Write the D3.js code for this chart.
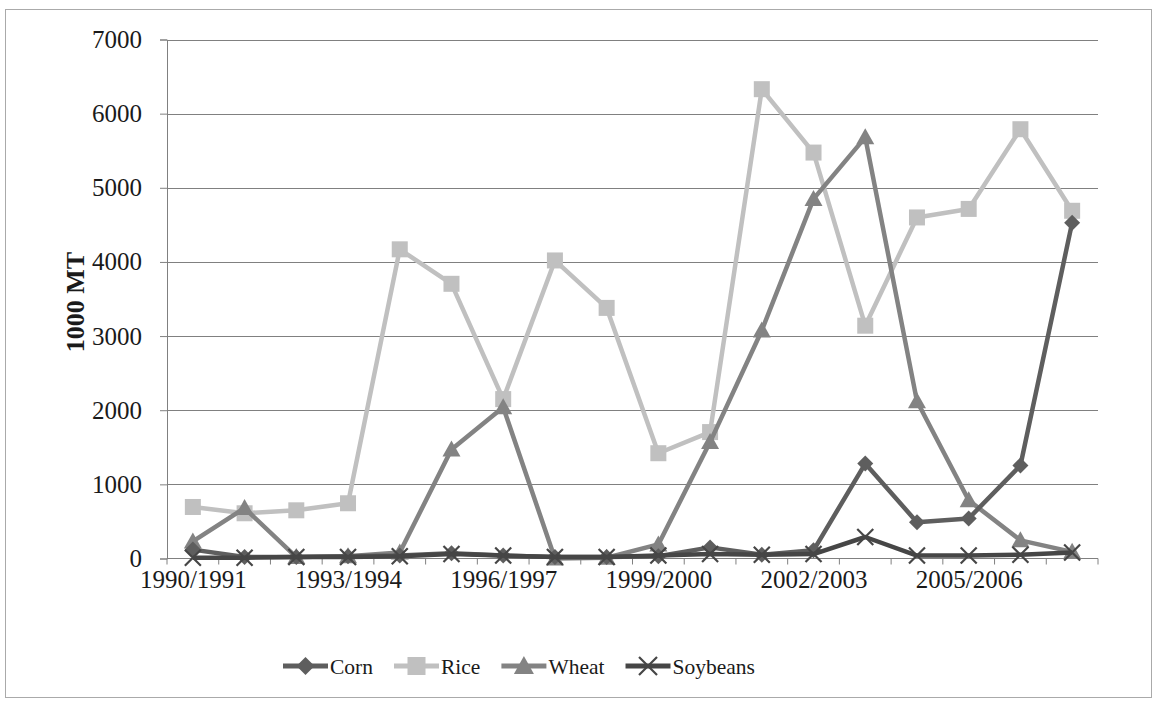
<!DOCTYPE html>
<html>
<head>
<meta charset="utf-8">
<script src="https://cdn.jsdelivr.net/npm/d3@7"></script>
<style>
  html, body { margin: 0; padding: 0; background: #fff; }
  svg { display: block; }
  text { font-family: "Liberation Serif", "Times New Roman", serif; fill: #1a1a1a; }
</style>
</head>
<body>
<svg id="chart" width="1153" height="701"></svg>
<script>
// Marketing years on the horizontal axis
const years = ["1990/1991","1991/1992","1992/1993","1993/1994","1994/1995","1995/1996",
  "1996/1997","1997/1998","1998/1999","1999/2000","2000/2001","2001/2002",
  "2002/2003","2003/2004","2004/2005","2005/2006","2006/2007","2007/2008"];
// Every third year is labelled
const yearLabels = ["1990/1991","1993/1994","1996/1997","1999/2000","2002/2003","2005/2006"];

// Volumes in 1000 MT
const corn     = [120, 20, 20, 30, 40, 70, 40, 20, 20, 30, 150, 50, 110, 1280, 490, 540, 1255, 4530];
const rice     = [695, 610, 650, 745, 4170, 3705, 2150, 4020, 3380, 1420, 1705, 6330, 5475, 3140, 4600, 4715, 5790, 4690];
const wheat    = [230, 680, 20, 30, 80, 1470, 2040, 0, 10, 190, 1570, 3075, 4850, 5680, 2120, 785, 245, 90];
const soybeans = [10, 10, 20, 20, 30, 60, 40, 20, 20, 40, 60, 50, 60, 290, 40, 40, 50, 80];

const yTicks = [0, 1000, 2000, 3000, 4000, 5000, 6000, 7000];

const seriesNames = ["Corn", "Rice", "Wheat", "Soybeans"];
const seriesValues = [corn, rice, wheat, soybeans];
const seriesColors = ["#5e5e5e", "#c0c0c0", "#838383", "#464646"];
const seriesMarkers = ["diamond", "square", "triangle", "cross"];

const svg = d3.select("#chart");
const plotLeft = 167, plotRight = 1098, plotTop = 39.5, plotBottom = 558.5;

// Outer frame
svg.append("rect")
  .attr("x", 5.5).attr("y", 9.5).attr("width", 1146).attr("height", 688)
  .attr("fill", "none").attr("stroke", "#aaa").attr("stroke-width", 1);

const x = d3.scaleBand().domain(years).range([plotLeft, plotRight]).padding(0);
const xc = d => x(d) + x.bandwidth() / 2;
const y = d3.scaleLinear().domain([0, 7000]).range([plotBottom, plotTop]);

// Value axis with left ticks
const yAxis = svg.append("g")
  .attr("transform", `translate(${plotLeft},0)`)
  .call(d3.axisLeft(y).tickValues(yTicks).tickSize(7).tickPadding(18).tickFormat(d3.format("d")));
yAxis.select(".domain").attr("stroke", "#808080");
yAxis.selectAll(".tick line").attr("stroke", "#808080");
yAxis.selectAll(".tick text").attr("font-size", 25).attr("font-family", "Liberation Serif").attr("fill", "#1a1a1a");

// Horizontal gridlines
svg.append("g").selectAll("line").data(yTicks.filter(d => d > 0)).join("line")
  .attr("x1", plotLeft).attr("x2", plotRight)
  .attr("y1", d => Math.round(y(d)) + 0.5).attr("y2", d => Math.round(y(d)) + 0.5)
  .attr("stroke", "#808080").attr("stroke-width", 1);

// Category axis along zero, with boundary ticks
svg.append("line")
  .attr("x1", plotLeft).attr("x2", plotRight).attr("y1", y(0)).attr("y2", y(0))
  .attr("stroke", "#808080");
svg.append("g").selectAll("line").data(years.concat(["end"])).join("line")
  .attr("x1", d => d === "end" ? plotRight : x(d))
  .attr("x2", d => d === "end" ? plotRight : x(d))
  .attr("y1", y(0)).attr("y2", y(0) + 6)
  .attr("stroke", "#808080");

const xAxis = svg.append("g")
  .attr("transform", `translate(0,${y(0)})`)
  .call(d3.axisBottom(d3.scalePoint().domain(years).range([xc(years[0]), xc(years[years.length - 1])]))
    .tickValues(yearLabels).tickSize(0).tickPadding(12));
xAxis.select(".domain").remove();
xAxis.selectAll(".tick text").attr("font-size", 25).attr("font-family", "Liberation Serif").attr("fill", "#1a1a1a");

// Axis title
svg.append("text")
  .attr("transform", "translate(84,302) rotate(-90)")
  .attr("text-anchor", "middle")
  .attr("font-size", 26).attr("font-weight", "bold")
  .text("1000 MT");

function marker(g, type, color, s) {
  if (type === "diamond") {
    g.append("path").attr("d", `M0,${-s}L${s},0L0,${s}L${-s},0Z`).attr("fill", color);
  } else if (type === "square") {
    g.append("rect").attr("x", -s).attr("y", -s).attr("width", 2 * s).attr("height", 2 * s).attr("fill", color);
  } else if (type === "triangle") {
    g.append("path").attr("d", `M0,${-s - 1}L${s + 1},${s - 1}L${-s - 1},${s - 1}Z`).attr("fill", color);
  } else {
    g.append("path").attr("d", `M${-s},${-s}L${s},${s}M${-s},${s}L${s},${-s}`)
      .attr("stroke", color).attr("stroke-width", 2.2).attr("fill", "none");
  }
}

const line = d3.line().x((d, i) => xc(years[i])).y(d => y(d));

// Draw order: rice underneath, then wheat, corn, soybeans
const order = [1, 2, 0, 3];
order.forEach(k => {
  const g = svg.append("g");
  g.append("path").datum(seriesValues[k]).attr("d", line)
    .attr("fill", "none").attr("stroke", seriesColors[k]).attr("stroke-width", 4.5)
    .attr("stroke-linejoin", "round");
  seriesValues[k].forEach((v, i) => {
    const m = g.append("g").attr("transform", `translate(${xc(years[i])},${y(v)})`);
    marker(m, seriesMarkers[k], seriesColors[k], 8);
  });
});

// Legend
const legend = svg.append("g");
let lx = 283;
const ly = 666;
seriesNames.forEach((name, k) => {
  const item = legend.append("g");
  item.append("line").attr("x1", lx).attr("x2", lx + 45).attr("y1", ly).attr("y2", ly)
    .attr("stroke", seriesColors[k]).attr("stroke-width", 5);
  const m = item.append("g").attr("transform", `translate(${lx + 22.5},${ly})`);
  marker(m, seriesMarkers[k], seriesColors[k], 9);
  const t = item.append("text").attr("x", lx + 47).attr("y", ly + 8)
    .attr("font-size", 21.5).text(name);
  lx += 47 + t.node().getComputedTextLength() + 21;
});
</script>
</body>
</html>
